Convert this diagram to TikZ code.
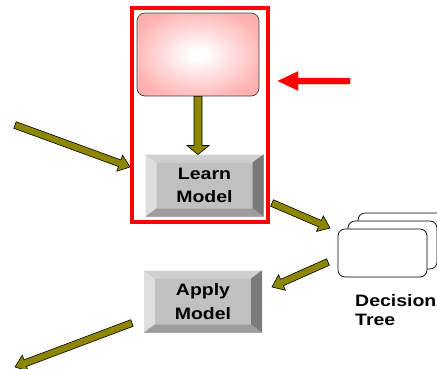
\documentclass[tikz,border=0pt]{standalone}
\usepackage{fontspec}
\usepackage{xcolor}
\usepackage{tikz}
\usetikzlibrary{calc,fit}
\newfontfamily\btnfont[FakeStretch=1.18]{Liberation Sans}
\definecolor{btnface}{RGB}{192,192,192}
\definecolor{bevlight}{RGB}{222,222,222}
\definecolor{bevtop}{RGB}{208,208,208}
\definecolor{bevdark}{RGB}{122,122,122}
\definecolor{bevlow}{RGB}{156,156,156}
\definecolor{pinkmid}{RGB}{255,178,178}
\definecolor{pinkedge}{RGB}{255,152,152}
\pgfdeclareradialshading{glow}{\pgfpoint{0bp}{0bp}}{color(0bp)=(white); color(3bp)=(white); color(28bp)=(pinkmid); color(50bp)=(pinkedge)}

% bevelled edges of a button, drawn inside the node
\newcommand{\bevel}[1]{%
  \fill[bevlight] (#1.north west) -- (#1.south west) -- ([shift={(11pt,8pt)}]#1.south west) -- ([shift={(11pt,-8pt)}]#1.north west) -- cycle;
  \fill[bevtop] (#1.north west) -- (#1.north east) -- ([shift={(-11pt,-8pt)}]#1.north east) -- ([shift={(11pt,-8pt)}]#1.north west) -- cycle;
  \fill[bevdark] (#1.north east) -- (#1.south east) -- ([shift={(-11pt,8pt)}]#1.south east) -- ([shift={(-11pt,-8pt)}]#1.north east) -- cycle;
  \fill[bevlow] (#1.south west) -- (#1.south east) -- ([shift={(-11pt,8pt)}]#1.south east) -- ([shift={(11pt,8pt)}]#1.south west) -- cycle;}

% block arrow: style, tail, tip, half shaft, half head, head length
\newcommand{\blockarrow}[6]{%
  \path (#3) coordinate (tip) ($(#3)!#6pt!(#2)$) coordinate (neck);
  \filldraw[#1] ($(#2)!#4pt!90:(#3)$) -- ($(neck)!#4pt!90:(tip)$) -- ($(neck)!#5pt!90:(tip)$) -- (tip)
    -- ($(neck)!#5pt!-90:(tip)$) -- ($(neck)!#4pt!-90:(tip)$) -- ($(#2)!#4pt!-90:(#3)$) -- cycle;}

\begin{document}
\begin{tikzpicture}[x=1pt, y=-1pt,
    flow/.style={fill=olive, draw=black, line width=0.6pt},
    hint/.style={fill=red, draw=red, line width=0.3pt},
    label/.style={font=\btnfont\bfseries\fontsize{16.5}{23.5}\selectfont, text=black},
    button/.style={label, align=center, inner sep=0pt, outer sep=0pt, minimum width=118pt, minimum height=62pt,
      fill=btnface, path picture={\bevel{path picture bounding box}}},
    card/.style={draw=black, fill=white, line width=0.7pt, rounded corners=7pt, minimum width=89pt, minimum height=48pt}]
    \useasboundingbox (0,0) rectangle (437,368);
    \node[draw=black!75, line width=0.7pt, rounded corners=8pt, minimum width=122pt, minimum height=83pt,
      shade, shading=glow] (data) at (198,54.5) {};
    \node[button] (learn) at (204.5,185.5) {Learn\\Model};
    \node[draw=red, line width=4pt, fit=(data)(learn), inner xsep=4.5pt, inner ysep=5pt] (frame) {};
    \node[button] (apply) at (203,301.5) {Apply\\Model};
    \node[card] (card3) at (402.5,237) {};
    \node[card] (card2) at (392.5,245) {};
    \node[card] (tree) at (382.5,253) {};
    \node[label, font=\btnfont\bfseries\fontsize{16.5}{19}\selectfont, anchor=north west, align=left, inner sep=0pt]
      (treelabel) at (355,294) {Decision\\Tree};
    \coordinate (learnin) at (data.south |- learn.north);
    \coordinate (feed) at (15,125);
    \coordinate (feedtip) at (130,167);
    \coordinate (hinttail) at (350,81);
    \coordinate (hinttip) at (278,81);
    \coordinate (fitout) at (272,203);
    \coordinate (treein) at (330,228);
    \coordinate (treeout) at (328,262);
    \coordinate (applyin) at (272,287);
    \coordinate (applyout) at (132,323);
    \coordinate (result) at (15,367);
    \blockarrow{flow}{data.south}{learnin}{4}{11}{9}
    \blockarrow{flow}{feed}{feedtip}{3.5}{8.5}{11}
    \blockarrow{flow}{fitout}{treein}{3.5}{8.5}{11}
    \blockarrow{flow}{treeout}{applyin}{3.5}{8.5}{11}
    \blockarrow{flow}{applyout}{result}{3.5}{8.5}{11}
    \blockarrow{hint}{hinttail}{hinttip}{3}{9.5}{20}
\end{tikzpicture}
\end{document}
